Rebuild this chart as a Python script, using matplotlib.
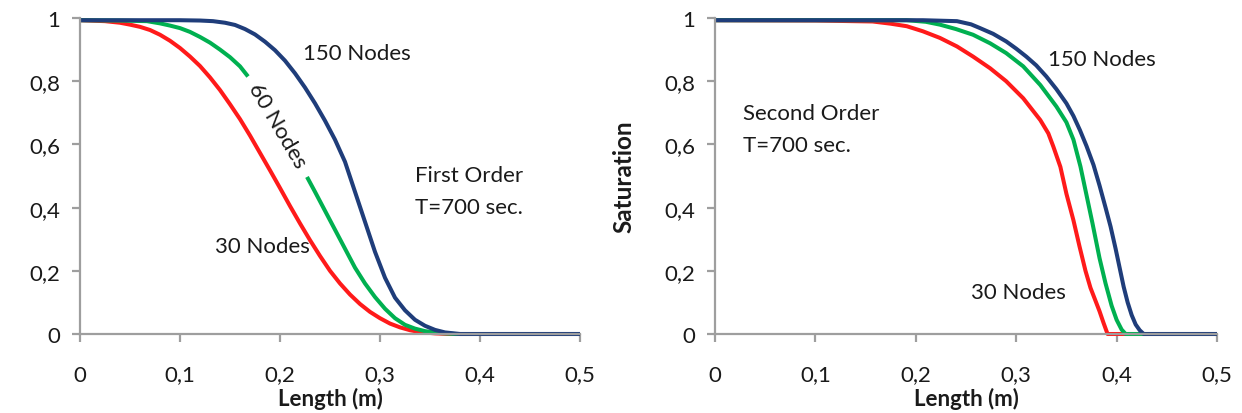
import numpy as np
import matplotlib
matplotlib.use("Agg")
import matplotlib.pyplot as plt

plt.rcParams['font.family'] = ['Lato', 'DejaVu Sans']

# ---------------- data ----------------
# Left panel: First Order, T=700 sec.
l30_x = [0, 0.025, 0.04, 0.05, 0.06, 0.07, 0.08, 0.09, 0.10, 0.11, 0.12, 0.13, 0.14, 0.15,
         0.16, 0.17, 0.18, 0.19, 0.20, 0.21, 0.22, 0.23, 0.24, 0.25, 0.26, 0.27, 0.28, 0.29,
         0.30, 0.31, 0.32, 0.33, 0.34, 0.355, 0.37, 0.5]
l30_y = [0.993, 0.99, 0.985, 0.979, 0.972, 0.962, 0.947, 0.928, 0.905, 0.878, 0.848, 0.812,
         0.772, 0.727, 0.68, 0.628, 0.573, 0.518, 0.462, 0.405, 0.35, 0.297, 0.247, 0.2,
         0.16, 0.125, 0.095, 0.07, 0.05, 0.033, 0.021, 0.012, 0.006, 0.002, 0.0, 0.0]

l60_x = [0, 0.04, 0.067, 0.08, 0.09, 0.10, 0.11, 0.12, 0.13, 0.14, 0.15, 0.16, 0.168,
         0.227, 0.235, 0.245, 0.255, 0.265, 0.275, 0.285, 0.295, 0.305, 0.315, 0.325, 0.335,
         0.345, 0.36, 0.375, 0.5]
l60_y = [0.993, 0.992, 0.99, 0.983, 0.976, 0.968, 0.956, 0.94, 0.922, 0.90, 0.876, 0.847, 0.815,
         0.497, 0.45, 0.39, 0.33, 0.27, 0.21, 0.16, 0.117, 0.08, 0.05, 0.029, 0.017,
         0.009, 0.003, 0.0, 0.0]
l60_gap = (0.168, 0.227)   # the line is interrupted by the "60 Nodes" label

l150_x = [0, 0.10, 0.12, 0.133, 0.145, 0.155, 0.165, 0.175, 0.185, 0.195, 0.205, 0.215, 0.225,
          0.235, 0.245, 0.255, 0.265, 0.275, 0.285, 0.295, 0.305, 0.315, 0.325, 0.335, 0.345,
          0.355, 0.365, 0.38, 0.5]
l150_y = [0.993, 0.993, 0.992, 0.99, 0.985, 0.978, 0.965, 0.948, 0.925, 0.898, 0.865, 0.825, 0.78,
          0.73, 0.675, 0.615, 0.545, 0.45, 0.355, 0.26, 0.178, 0.115, 0.075, 0.045, 0.026,
          0.013, 0.005, 0.0, 0.0]

# Right panel: Second Order, T=700 sec.
r30_x = [0, 0.10, 0.157, 0.175, 0.191, 0.207, 0.224, 0.241, 0.257, 0.274, 0.29, 0.307, 0.324,
         0.332, 0.337, 0.344, 0.35, 0.357, 0.363, 0.369, 0.374, 0.379, 0.383, 0.387, 0.391, 0.5]
r30_y = [0.993, 0.992, 0.989, 0.982, 0.974, 0.958, 0.937, 0.91, 0.878, 0.841, 0.80, 0.746, 0.677,
         0.635, 0.593, 0.529, 0.444, 0.36, 0.278, 0.2, 0.146, 0.105, 0.072, 0.035, 0.0, 0.0]

r60_x = [0, 0.191, 0.21, 0.224, 0.24, 0.257, 0.274, 0.29, 0.307, 0.324, 0.34, 0.35, 0.357,
         0.364, 0.37, 0.376, 0.383, 0.389, 0.395, 0.40, 0.405, 0.409, 0.5]
r60_y = [0.993, 0.993, 0.988, 0.979, 0.965, 0.947, 0.92, 0.889, 0.847, 0.788, 0.72, 0.67, 0.615,
         0.53, 0.44, 0.35, 0.24, 0.16, 0.09, 0.045, 0.014, 0.0, 0.0]

r150_x = [0, 0.207, 0.241, 0.255, 0.264, 0.277, 0.29, 0.30, 0.31, 0.32, 0.33, 0.34, 0.35, 0.357,
          0.3635, 0.37, 0.377, 0.383, 0.389, 0.394, 0.399, 0.403, 0.407, 0.411, 0.415, 0.419,
          0.423, 0.427, 0.5]
r150_y = [0.993, 0.993, 0.99, 0.98, 0.968, 0.95, 0.926, 0.903, 0.878, 0.85, 0.815, 0.775, 0.73,
          0.69, 0.645, 0.595, 0.535, 0.47, 0.40, 0.34, 0.27, 0.21, 0.15, 0.10, 0.06, 0.03,
          0.012, 0.0, 0.0]

x_ticks = [0, 0.1, 0.2, 0.3, 0.4, 0.5]
x_ticklabels = ["0", "0,1", "0,2", "0,3", "0,4", "0,5"]
y_ticks = [0, 0.2, 0.4, 0.6, 0.8, 1.0]
y_ticklabels = ["0", "0,2", "0,4", "0,6", "0,8", "1"]

RED = '#ff1a1a'
GREEN = '#00b050'
BLUE = '#1f3d7a'
AXC = '#9e9e9e'
TXT = '#1a1a1a'
LW = 2.9
FS = 16

fig = plt.figure(figsize=(12.42, 4.14), dpi=100)
axL = fig.add_axes([80/1242, 1-335/414, 500/1242, 316/414])
axR = fig.add_axes([715/1242, 1-335/414, 502/1242, 316/414])


def style(ax):
    ax.set_xlim(0, 0.5)
    ax.set_ylim(0, 1)
    for s in ['top', 'right']:
        ax.spines[s].set_visible(False)
    for s in ['left', 'bottom']:
        ax.spines[s].set_color(AXC)
        ax.spines[s].set_linewidth(1.6)
    ax.set_xticks(x_ticks)
    ax.set_xticklabels(x_ticklabels)
    ax.set_yticks(y_ticks)
    ax.set_yticklabels(y_ticklabels)
    ax.tick_params(axis='both', direction='out', length=6, width=1.6, color=AXC,
                   labelsize=16, labelcolor=TXT)
    ax.tick_params(axis='x', pad=16)
    ax.tick_params(axis='y', pad=8)
    ax.set_xlabel("Length (m)", fontsize=16, fontweight='bold', labelpad=1.5, color=TXT)
    ax.set_ylabel("Saturation", fontsize=17.5, fontweight='bold', color=TXT)
    ax.yaxis.set_label_coords(-0.158, 0.5)


def line(ax, x, y, color):
    ax.plot(x, y, color=color, lw=LW, clip_on=False, solid_capstyle='butt',
            solid_joinstyle='round')


# Left panel
x60 = np.array(l60_x)
y60 = np.array(l60_y)
m1 = x60 <= l60_gap[0]
m2 = x60 >= l60_gap[1]
line(axL, l30_x, l30_y, RED)
line(axL, x60[m1], y60[m1], GREEN)
line(axL, x60[m2], y60[m2], GREEN)
line(axL, l150_x, l150_y, BLUE)
style(axL)

axL.text(0.223, 0.89, "150 Nodes", fontsize=FS, color=TXT, va='center', ha='left')
axL.text(0.197, 0.661, "60 Nodes", fontsize=FS, color=TXT, va='center', ha='center',
         rotation=-59.5, rotation_mode='anchor')
axL.text(0.135, 0.28, "30 Nodes", fontsize=FS, color=TXT, va='center', ha='left')
axL.text(0.335, 0.502, "First Order", fontsize=FS, color=TXT, va='center', ha='left')
axL.text(0.335, 0.403, "T=700 sec.", fontsize=FS, color=TXT, va='center', ha='left')

# Right panel
line(axR, r30_x, r30_y, RED)
line(axR, r60_x, r60_y, GREEN)
line(axR, r150_x, r150_y, BLUE)
style(axR)

axR.text(0.332, 0.87, "150 Nodes", fontsize=FS, color=TXT, va='center', ha='left')
axR.text(0.028, 0.698, "Second Order", fontsize=FS, color=TXT, va='center', ha='left')
axR.text(0.028, 0.597, "T=700 sec.", fontsize=FS, color=TXT, va='center', ha='left')
axR.text(0.255, 0.133, "30 Nodes", fontsize=FS, color=TXT, va='center', ha='left')

fig.savefig("out.png", dpi=100)
